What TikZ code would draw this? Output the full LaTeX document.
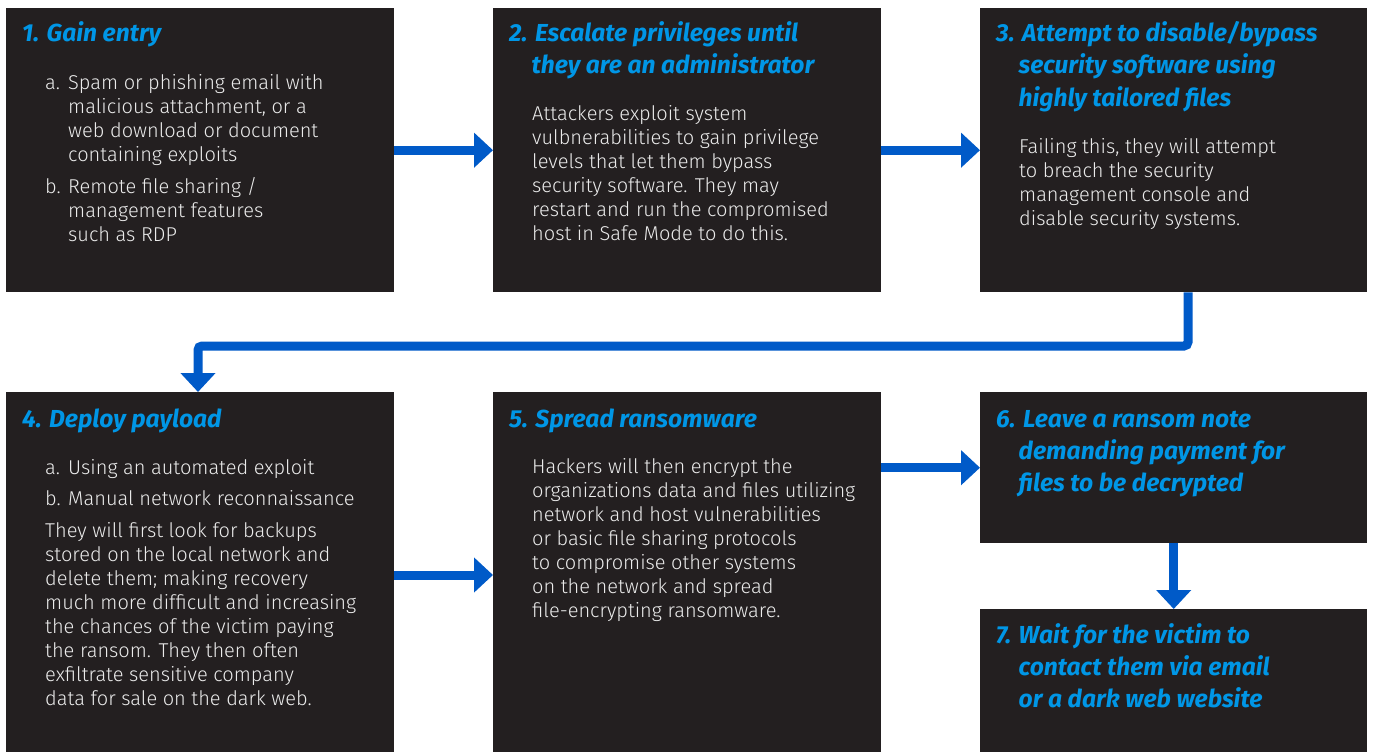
\documentclass[tikz,border=0pt]{standalone}
\usepackage{fontspec}
\usetikzlibrary{arrows.meta}
\newfontfamily\bodyf{Fira Sans Light}
\newfontfamily\titlef{Fira Sans}
\definecolor{boxfill}{HTML}{231F20}
\definecolor{titleblue}{HTML}{0096E6}
\definecolor{arrowblue}{HTML}{005AC8}
\definecolor{bodytext}{HTML}{EBEBEB}
\newcommand\blk[1]{\parbox[t]{420pt}{\baselineskip=24pt #1}}
\newcommand\tblk[1]{\parbox[t]{420pt}{\baselineskip=32pt\hangindent=22.5pt\hangafter=1 #1}}
\begin{document}
\begin{tikzpicture}[x=1pt,y=-1pt,
  box/.style={fill=boxfill, draw=none, anchor=north west, inner sep=0, minimum width=388pt},
  body/.style={anchor=base west, inner sep=0, text=bodytext, font=\bodyf\fontsize{20}{24}\selectfont},
  ttl/.style={anchor=base west, inner sep=0, text=titleblue, font=\titlef\bfseries\itshape\fontsize{24.6}{32}\selectfont},
  arr/.style={draw=arrowblue, line width=9pt, -{Triangle[length=19pt,width=34pt]}}]
\useasboundingbox (0,0) rectangle (1373,752);
\fill[white] (0,0) rectangle (1373,752);
% boxes
\node[box, minimum height=284pt] (b1) at (6,8) {};
\node[box, minimum height=284pt] (b2) at (493,8) {};
\node[box, minimum height=284pt, minimum width=387pt] (b3) at (980,8) {};
\node[box, minimum height=360pt] (b4) at (6,392) {};
\node[box, minimum height=360pt] (b5) at (493,392) {};
\node[box, minimum height=151pt, minimum width=387pt] (b6) at (980,392) {};
\node[box, minimum height=143pt, minimum width=387pt] (b7) at (980,609) {};
% box 1
\node[ttl] (t1) at (22,42) {1. Gain entry};
\node[body] (l1a) at (45,89) {a.};
\node[body] (p1a) at (68,89) {\blk{Spam or phishing email with\\malicious attachment, or a\\web download or document\\containing exploits}};
\node[body] (l1b) at (45,193) {b.};
\node[body] (p1b) at (68,193) {\blk{Remote file sharing /\\management features\\such as RDP}};
% box 2
\node[ttl] (t2) at (509,42) {\tblk{2. Escalate privileges until\\they are an administrator}};
\node[body] (p2) at (532,120) {\blk{Attackers exploit system\\vulbnerabilities to gain privilege\\levels that let them bypass\\security software. They may\\restart and run the compromised\\host in Safe Mode to do this.}};
% box 3
\node[ttl] (t3) at (996,42) {\tblk{3. Attempt to disable/bypass\\security software using\\highly tailored files}};
\node[body] (p3) at (1019,153) {\blk{Failing this, they will attempt\\to breach the security\\management console and\\disable security systems.}};
% box 4
\node[ttl] (t4) at (22,427) {4. Deploy payload};
\node[body] (l4a) at (45,474) {a.};
\node[body] (p4a) at (68,474) {Using an automated exploit};
\node[body] (l4b) at (45,505) {b.};
\node[body] (p4b) at (68,505) {Manual network reconnaissance};
\node[body] (p4) at (45,537) {\blk{They will first look for backups\\stored on the local network and\\delete them; making recovery\\much more difficult and increasing\\the chances of the victim paying\\the ransom. They then often\\exfiltrate sensitive company\\data for sale on the dark web.}};
% box 5
\node[ttl] (t5) at (509,427) {5. Spread ransomware};
\node[body] (p5) at (532,473) {\blk{Hackers will then encrypt the\\organizations data and files utilizing\\network and host vulnerabilities\\or basic file sharing protocols\\to compromise other systems\\on the network and spread\\file-encrypting ransomware.}};
% box 6
\node[ttl] (t6) at (996,427) {\tblk{6. Leave a ransom note\\demanding payment for\\files to be decrypted}};
% box 7
\node[ttl] (t7) at (996,643) {\tblk{7. Wait for the victim to\\contact them via email\\or a dark web website}};
% connectors
\coordinate (k1) at (1188,346);
\coordinate (k2) at (198,346);
\coordinate (k3) at (0,575);
\draw[arr] (b1.east) -- (b2.west);
\draw[arr] (b2.east) -- (b3.west);
\draw[arr, rounded corners=4pt] (b3.south -| k1) -- (k1) -- (k2) -- (b4.north -| k2);
\draw[arr] (b4.east |- k3) -- (b5.west |- k3);
\draw[arr] (b5.east |- b6.west) -- (b6.west);
\draw[arr] (b6.south) -- (b7.north);
\end{tikzpicture}
\end{document}
